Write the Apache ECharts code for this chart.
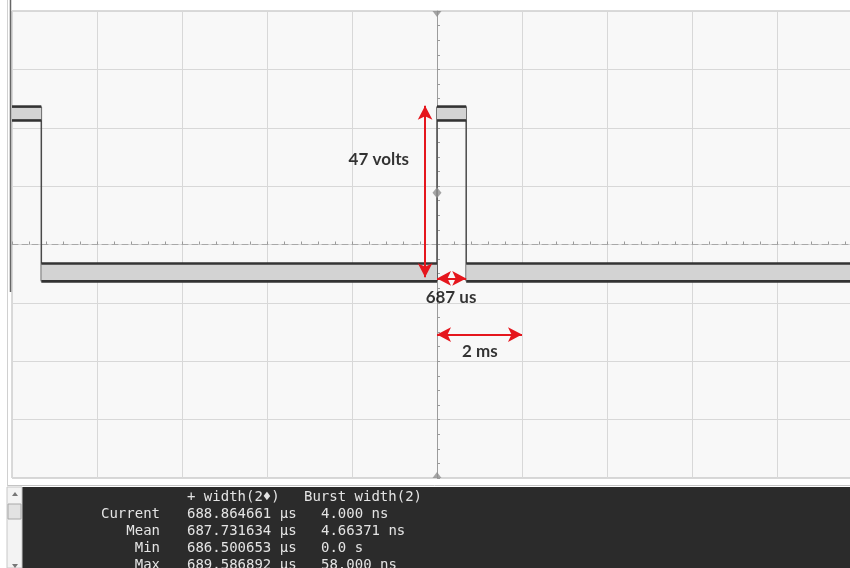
<!DOCTYPE html>
<html>
<head>
<meta charset="utf-8">
<script src="https://cdn.jsdelivr.net/npm/echarts@6/dist/echarts.min.js"></script>
<style>
  html, body { margin: 0; padding: 0; background: #ffffff; overflow: hidden; }
  /* the screen is ten divisions wide; the window shows all but its right edge */
  #scope { width: 862px; height: 568px; }
</style>
</head>
<body>
<div id="scope"></div>
<script>
// Time base: ms, 2 ms per division; vertical: volts, 16 V per division.
const timeMin = -10, timeMax = 10, timeDiv = 2;
const voltMin = -64, voltMax = 64, voltDiv = 16;

// Trace as flat segments: start / end time (ms), noise band top / bottom (V)
const segStart  = [-10,   -9.31, 0,    0.687];
const segEnd    = [-9.31,  0,    0.687, 10];
const segTop    = [37.8,  -5.2,  37.8, -5.2];
const segBottom = [34.0, -10.1,  34.0, -10.1];

// Trigger level marker (V)
const triggerLevel = 14.2;

// Measurement arrows
const voltArrowTime = -0.28;      // ms
const voltArrowFrom = -9;         // V
const voltArrowTo = 38;           // V  (47 volts)
const widthArrowLevel = -9.3;     // V
const widthArrowFrom = 0;         // ms
const widthArrowTo = 0.687;       // ms (687 us)
const divArrowLevel = -24.7;      // V
const divArrowFrom = 0;           // ms
const divArrowTo = 2;             // ms (2 ms)

// Annotation texts and where they sit (ms, V)
const noteText = ['47 volts', '687 us', '2 ms'];
const noteTime = [-1.37, 0.33, 1.01];
const noteVolt = [23.3, -14.5, -29.3];

// Measurement table
const tableHeader = ['+ width(2\u2666)', 'Burst width(2)'];
const statNames   = ['Current', 'Mean', 'Min', 'Max'];
const widthStats  = ['688.864661 \u00b5s', '687.731634 \u00b5s', '686.500653 \u00b5s', '689.586892 \u00b5s'];
const burstStats  = ['4.000 ns', '4.66371 ns', '0.0 s', '58.000 ns'];

const bandData = segStart.map((s, i) => [s, segEnd[i], segTop[i], segBottom[i]]);
const edgeData = [];
for (let i = 0; i < segStart.length - 1; i++) {
  edgeData.push([segEnd[i], Math.max(segTop[i], segTop[i + 1]), Math.min(segBottom[i], segBottom[i + 1])]);
}

function renderBand(params, api) {
  const a = api.coord([api.value(0), api.value(2)]);
  const b = api.coord([api.value(1), api.value(3)]);
  return {
    type: 'group',
    children: [
      { type: 'rect', shape: { x: a[0], y: a[1], width: b[0] - a[0], height: b[1] - a[1] },
        style: { fill: '#d3d3d3' } },
      { type: 'line', shape: { x1: a[0], y1: a[1], x2: b[0], y2: a[1] },
        style: { stroke: '#333333', lineWidth: 2.6 } },
      { type: 'line', shape: { x1: a[0], y1: b[1], x2: b[0], y2: b[1] },
        style: { stroke: '#333333', lineWidth: 2.6 } }
    ]
  };
}

function renderEdge(params, api) {
  const a = api.coord([api.value(0), api.value(1)]);
  const b = api.coord([api.value(0), api.value(2)]);
  return { type: 'line', shape: { x1: a[0], y1: a[1], x2: b[0], y2: b[1] },
           style: { stroke: '#4a4a4a', lineWidth: 1.5 } };
}

const red = '#e5161d';
const mono = '14px "DejaVu Sans Mono"';
const textColor = '#e4e4e4';

// Measurement panel drawn below the screen
const panel = [
  { type: 'rect', shape: { x: 7, y: 487, width: 855, height: 81 }, style: { fill: '#2b2b2b' } },
  { type: 'rect', shape: { x: 7, y: 487, width: 15, height: 81 }, style: { fill: '#f3f3f3', stroke: '#c8c8c8', lineWidth: 1 } },
  { type: 'rect', shape: { x: 8, y: 504, width: 13, height: 15 }, style: { fill: '#e2e2e2', stroke: '#a8a8a8', lineWidth: 1 } },
  { type: 'polygon', shape: { points: [[12, 496], [15, 492], [18, 496]] }, style: { fill: '#777' } },
  { type: 'polygon', shape: { points: [[12, 564], [15, 568], [18, 564]] }, style: { fill: '#777' } },
  { type: 'line', shape: { x1: 7, y1: 485.5, x2: 862, y2: 485.5 }, style: { stroke: '#c4c4c4', lineWidth: 1 } },
  { type: 'line', shape: { x1: 7.5, y1: 0, x2: 7.5, y2: 486 }, style: { stroke: '#d0d0d0', lineWidth: 1 } },
  { type: 'line', shape: { x1: 10.5, y1: 0, x2: 10.5, y2: 292 }, style: { stroke: '#666', lineWidth: 1.5 } },
  { type: 'text', style: { text: tableHeader[0], x: 187, y: 497, font: mono, fill: textColor, textVerticalAlign: 'middle' } },
  { type: 'text', style: { text: tableHeader[1], x: 304, y: 497, font: mono, fill: textColor, textVerticalAlign: 'middle' } }
];
statNames.forEach((name, i) => {
  const y = 514 + i * 17;
  panel.push({ type: 'text', style: { text: name, x: 160, y: y, font: mono, fill: textColor, textAlign: 'right', textVerticalAlign: 'middle' } });
  panel.push({ type: 'text', style: { text: widthStats[i], x: 187, y: y, font: mono, fill: textColor, textVerticalAlign: 'middle' } });
  panel.push({ type: 'text', style: { text: burstStats[i], x: 321, y: y, font: mono, fill: textColor, textVerticalAlign: 'middle' } });
});

const chart = echarts.init(document.getElementById('scope'), null, { renderer: 'canvas' });
chart.setOption({
  animation: false,
  backgroundColor: '#ffffff',
  grid: { left: 12, top: 11, right: 0, bottom: 90, show: true,
          backgroundColor: '#f8f8f8', borderColor: '#b4b4b4', borderWidth: 1 },
  xAxis: {
    type: 'value', min: timeMin, max: timeMax, interval: timeDiv,
    axisLabel: { show: false },
    axisLine: { show: true, onZero: true, lineStyle: { color: '#a8a8a8', type: [6, 4], width: 1 } },
    axisTick: { show: true, length: 3, inside: true, lineStyle: { color: '#9a9a9a' } },
    minorTick: { show: true, splitNumber: 5, length: 3, lineStyle: { color: '#9a9a9a' } },
    splitLine: { show: true, lineStyle: { color: '#d8d8d8', width: 1 } }
  },
  yAxis: {
    type: 'value', min: voltMin, max: voltMax, interval: voltDiv,
    axisLabel: { show: false },
    axisLine: { show: true, onZero: true, lineStyle: { color: '#9c9c9c', width: 1 } },
    axisTick: { show: true, length: 3, inside: true, lineStyle: { color: '#9a9a9a' } },
    minorTick: { show: true, splitNumber: 4, length: 3, lineStyle: { color: '#9a9a9a' } },
    splitLine: { show: true, lineStyle: { color: '#d8d8d8', width: 1 } }
  },
  graphic: { elements: panel },
  series: [
    {
      name: 'edges', type: 'custom', clip: true, renderItem: renderEdge,
      encode: { x: 0, y: [1, 2] }, data: edgeData, silent: true, z: 3
    },
    {
      name: 'trace', type: 'custom', clip: true, renderItem: renderBand,
      encode: { x: [0, 1], y: [2, 3] }, data: bandData, silent: true, z: 4
    },
    {
      name: 'markers', type: 'scatter', clip: false, silent: true, z: 5,
      itemStyle: { color: '#8f8f8f' },
      data: [
        { value: [0, triggerLevel], symbol: 'diamond', symbolSize: [9, 11] },
        { value: [0, voltMax], symbol: 'triangle', symbolRotate: 180, symbolSize: [9, 6], symbolOffset: [0, 3] },
        { value: [0, voltMin], symbol: 'triangle', symbolSize: [9, 6], symbolOffset: [0, -3] }
      ]
    },
    {
      name: 'notes', type: 'scatter', silent: true, z: 6, symbolSize: 0,
      data: noteText.map((t, i) => [noteTime[i], noteVolt[i], t]),
      label: {
        show: true, position: 'inside', formatter: p => p.value[2],
        color: '#000000', fontFamily: 'Lato', fontWeight: 'bold', fontSize: 17
      },
      markLine: {
        silent: true, animation: false,
        symbol: ['arrow', 'arrow'], symbolSize: [11, 14],
        label: { show: false },
        lineStyle: { color: red, width: 2, type: 'solid' },
        data: [
          [{ coord: [voltArrowTime, voltArrowFrom] }, { coord: [voltArrowTime, voltArrowTo] }],
          [{ coord: [widthArrowFrom, widthArrowLevel] }, { coord: [widthArrowTo, widthArrowLevel] }],
          [{ coord: [divArrowFrom, divArrowLevel] }, { coord: [divArrowTo, divArrowLevel] }]
        ]
      }
    }
  ]
});
</script>
</body>
</html>
